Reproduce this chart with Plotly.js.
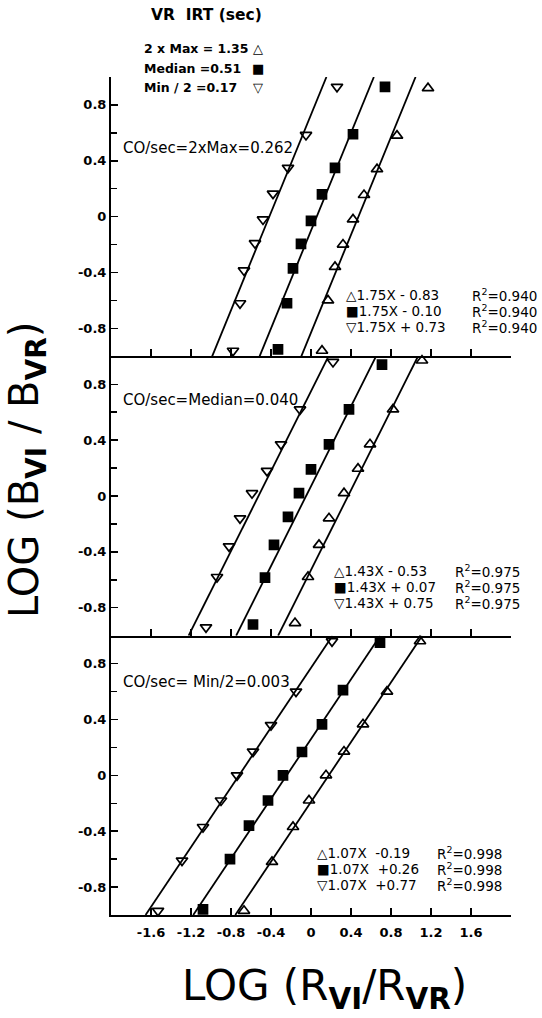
<!DOCTYPE html>
<html>
<head>
<meta charset="utf-8">
<script src="https://cdn.plot.ly/plotly-3.0.1.min.js"></script>
<style>html,body{margin:0;padding:0;background:#fff;}#chart{width:542px;height:1018px;}</style>
</head>
<body>
<div id="chart"></div>
<script>
// ---------------- DATA ----------------
// Top panel: CO/sec = 2xMax = 0.262
const maxX_top = [0.11, 0.17, 0.24, 0.32, 0.42, 0.53, 0.66, 0.86, 1.17];
const maxY_top = [-0.96, -0.60, -0.36, -0.20, -0.02, 0.155, 0.34, 0.58, 0.92];
const medX_top = [-0.33, -0.24, -0.18, -0.10, 0.00, 0.11, 0.24, 0.42, 0.74];
const medY_top = [-0.95, -0.62, -0.37, -0.195, -0.03, 0.16, 0.35, 0.59, 0.93];
const minX_top = [-0.78, -0.71, -0.67, -0.56, -0.48, -0.38, -0.23, -0.05, 0.26];
const minY_top = [-0.96, -0.62, -0.385, -0.19, -0.02, 0.165, 0.35, 0.585, 0.93];
// Middle panel: CO/sec = Median = 0.040
const maxX_mid = [-0.16, -0.03, 0.08, 0.18, 0.33, 0.47, 0.59, 0.82, 1.11];
const maxY_mid = [-0.91, -0.58, -0.35, -0.16, 0.02, 0.195, 0.37, 0.62, 0.97];
const medX_mid = [-0.58, -0.46, -0.37, -0.23, -0.12, 0.00, 0.18, 0.38, 0.71];
const medY_mid = [-0.92, -0.585, -0.35, -0.15, 0.02, 0.19, 0.37, 0.62, 0.94];
const minX_mid = [-1.05, -0.94, -0.82, -0.71, -0.59, -0.44, -0.30, -0.11, 0.22];
const minY_mid = [-0.94, -0.58, -0.36, -0.16, 0.02, 0.18, 0.37, 0.62, 0.96];
// Bottom panel: CO/sec = Min/2 = 0.003
const maxX_bot = [-0.67, -0.39, -0.18, -0.02, 0.15, 0.33, 0.52, 0.76, 1.09];
const maxY_bot = [-0.97, -0.62, -0.37, -0.18, 0.00, 0.17, 0.365, 0.60, 0.96];
const medX_bot = [-1.08, -0.81, -0.62, -0.43, -0.28, -0.09, 0.11, 0.32, 0.69];
const medY_bot = [-0.96, -0.60, -0.36, -0.18, 0.00, 0.167, 0.365, 0.61, 0.95];
const minX_bot = [-1.53, -1.29, -1.08, -0.90, -0.74, -0.58, -0.40, -0.15, 0.21];
const minY_bot = [-0.97, -0.61, -0.37, -0.18, 0.00, 0.17, 0.36, 0.60, 0.96];

// Regression equations  (order: 2xMax, Median, Min/2)
const slopes = [1.75, 1.43, 1.07];            // top, middle, bottom
const intercepts_top = [-0.83, -0.10, 0.73];
const intercepts_mid = [-0.53, 0.07, 0.75];
const intercepts_bot = [-0.19, 0.26, 0.77];
const r2 = ["0.940", "0.975", "0.998"];

// Texts
const legendTitle = "VR  IRT (sec)";
const legendLabels = ["2 x Max = 1.35", "Median =0.51", "Min / 2 =0.17"];
const symbolGlyphs = ["\u25B3", "\u25A0", "\u25BD"];
const panelLabels = ["CO/sec=2xMax=0.262", "CO/sec=Median=0.040", "CO/sec= Min/2=0.003"];
const eqTop = ["1.75X - 0.83", "1.75X - 0.10", "1.75X + 0.73"];
const eqMid = ["1.43X - 0.53", "1.43X + 0.07", "1.43X + 0.75"];
const eqBot = ["1.07X  -0.19", "1.07X  +0.26", "1.07X  +0.77"];
const xTickVals = [-1.6, -1.2, -0.8, -0.4, 0, 0.4, 0.8, 1.2, 1.6];
const xTickText = ["-1.6", "-1.2", "-0.8", "-0.4", "0", "0.4", "0.8", "1.2", "1.6"];
const yTickVals = [-0.8, -0.4, 0, 0.4, 0.8];
const yTickText = ["-0.8", "-0.4", "0", "0.4", "0.8"];
const xTitle = "LOG (R<sub><b>VI</b></sub>/R<sub><b>VR</b></sub>)";
const yTitle = "LOG (B<sub><b>VI</b></sub> / B<sub><b>VR</b></sub>)";

// ---------------- BUILD ----------------
const W = 542, H = 1018, ML = 111, MR = 31, MT = 77, MB = 103;
const PW = W - ML - MR, PH = H - MT - MB;
function px(x) { return (x - ML) / PW; }
function py(y) { return (H - MB - y) / PH; }

const symbols = ["triangle-up-open", "square", "triangle-down-open"];
const panels = [
  { xa: "x3", ya: "y3", data: [[maxX_top, maxY_top], [medX_top, medY_top], [minX_top, minY_top]], m: slopes[0], b: intercepts_top },
  { xa: "x2", ya: "y2", data: [[maxX_mid, maxY_mid], [medX_mid, medY_mid], [minX_mid, minY_mid]], m: slopes[1], b: intercepts_mid },
  { xa: "x",  ya: "y",  data: [[maxX_bot, maxY_bot], [medX_bot, medY_bot], [minX_bot, minY_bot]], m: slopes[2], b: intercepts_bot }
];

const traces = [];
panels.forEach(p => {
  p.b.forEach(b => {
    const ys = [-1, 1];
    traces.push({ x: ys.map(y => (y - b) / p.m), y: ys, xaxis: p.xa, yaxis: p.ya, mode: "lines",
      line: { color: "#000", width: 1.8 }, hoverinfo: "skip", showlegend: false });
  });
  p.data.forEach((d, i) => {
    traces.push({ x: d[0], y: d[1], xaxis: p.xa, yaxis: p.ya, mode: "markers", showlegend: false,
      cliponaxis: false,
      marker: { symbol: symbols[i], size: i === 1 ? 9 : 10, color: "#000", line: { color: "#000", width: 1.7 } } });
  });
});

const tickFont = { family: "DejaVu Sans", size: 13, color: "#000", weight: "bold" };
function xAxis(anchor, labels) {
  return { domain: [0, 1], range: [-2, 2], anchor: anchor, showline: true, linewidth: 2, linecolor: "#000",
    ticks: "inside", ticklen: 7, tickwidth: 1.5, tickcolor: "#000", tickvals: xTickVals, ticktext: xTickText,
    showticklabels: labels, tickfont: tickFont, ticklabelstandoff: 4, showgrid: false, zeroline: false, fixedrange: true };
}
function yAxis(anchor, dom) {
  return { domain: dom, range: [-1, 1], anchor: anchor, showline: true, linewidth: 2, linecolor: "#000",
    ticks: "inside", ticklen: 7, tickwidth: 1.5, tickcolor: "#000", tickvals: yTickVals, ticktext: yTickText,
    tickfont: tickFont, showgrid: false, zeroline: false, fixedrange: true,
    minor: { ticks: "inside", ticklen: 6, tickwidth: 1.5, tickcolor: "#000", dtick: 0.2, tick0: 0, showgrid: false } };
}

const ann = [];
function addText(x, y, text, size, opts) {
  ann.push(Object.assign({ xref: "paper", yref: "paper", x: px(x), y: py(y), text: text, showarrow: false,
    xanchor: "left", yanchor: "middle", font: { family: "DejaVu Sans", size: size, color: "#000" } }, opts || {}));
}
// Legend block
addText(206, 15, legendTitle, 15.5, { xanchor: "center", font: { family: "DejaVu Sans", size: 15.5, color: "#000", weight: "bold" } });
legendLabels.forEach((t, i) => {
  addText(142, 49 + 19 * i, t, 12.5, { font: { family: "DejaVu Sans", size: 12.5, color: "#000", weight: "bold" } });
  addText(258, 49 + 19 * i, symbolGlyphs[i], 13, { xanchor: "center", font: { family: "DejaVu Sans", size: 13, color: "#000", weight: "bold" } });
});
// Panel labels
addText(121, 148, panelLabels[0], 15);
addText(121, 400, panelLabels[1], 15);
addText(121, 682, panelLabels[2], 15);
// Equations
const eqBlocks = [
  { eq: eqTop, x: 344, xr: 470, y0: 295, r: r2[0] },
  { eq: eqMid, x: 332, xr: 453, y0: 571, r: r2[1] },
  { eq: eqBot, x: 315, xr: 435, y0: 853, r: r2[2] }
];
eqBlocks.forEach(bk => {
  bk.eq.forEach((t, i) => {
    addText(bk.x, bk.y0 + 16 * i, symbolGlyphs[i] + t, 13.5);
    addText(bk.xr, bk.y0 + 16 * i, "R<sup>2</sup>=" + bk.r, 13.5);
  });
});
// Axis titles
addText(324, 988, xTitle, 42, { xanchor: "center", font: { family: "DejaVu Sans", size: 42, color: "#000" } });
addText(27, 470, yTitle, 40, { xanchor: "center", textangle: -90, font: { family: "DejaVu Sans", size: 40, color: "#000" } });

const layout = {
  width: W, height: H, margin: { l: ML, r: MR, t: MT, b: MB }, paper_bgcolor: "#fff", plot_bgcolor: "#fff",
  showlegend: false,
  xaxis: xAxis("y", true),
  xaxis2: xAxis("y2", false),
  xaxis3: xAxis("y3", false),
  yaxis: yAxis("x", [0, 1 / 3]),
  yaxis2: yAxis("x2", [1 / 3, 2 / 3]),
  yaxis3: yAxis("x3", [2 / 3, 1]),
  annotations: ann
};
Plotly.newPlot("chart", traces, layout, { staticPlot: true, displayModeBar: false });
</script>
</body>
</html>
